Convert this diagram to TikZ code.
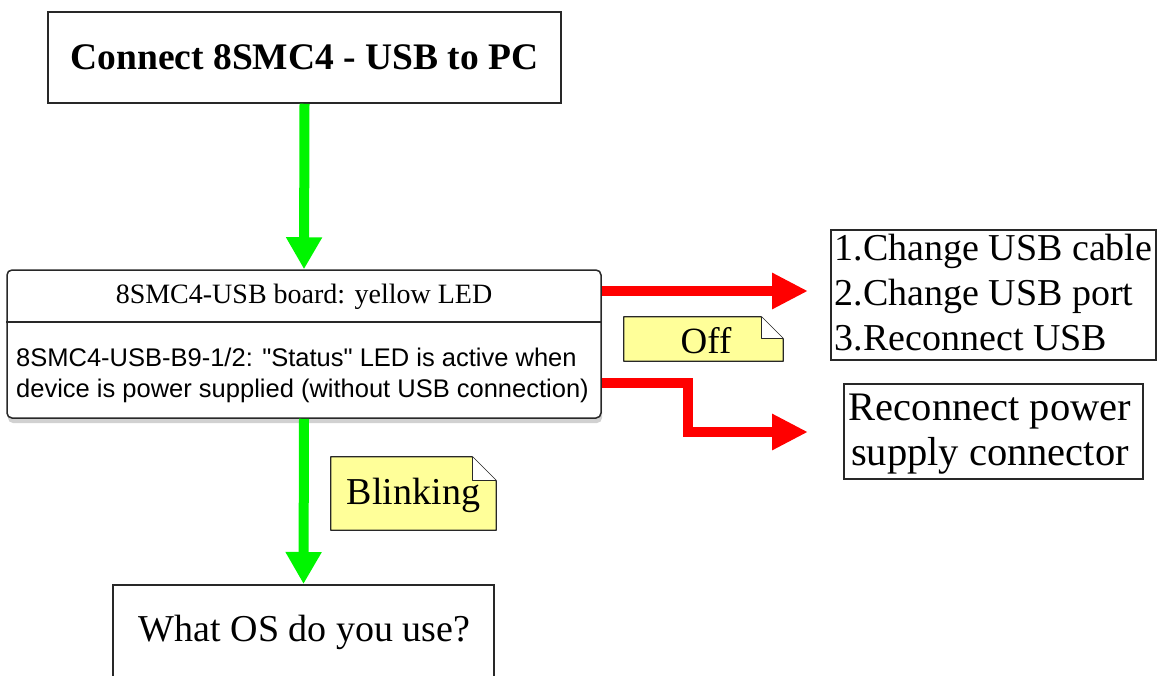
\documentclass[tikz,border=0pt]{standalone}
\usepackage{fontspec}
\setmainfont{Liberation Serif}
\newfontfamily\plainsans{Liberation Sans}
\usetikzlibrary{arrows.meta,shadows,backgrounds}
\definecolor{arrgreen}{RGB}{0,245,0}
\definecolor{arrred}{RGB}{255,0,0}
\definecolor{notey}{RGB}{255,255,153}
\definecolor{edge}{RGB}{40,40,40}
\tikzset{
  box/.style={draw=edge, line width=1.5pt, fill=white, inner sep=0pt},
  garrow/.style={draw=arrgreen, line width=10pt, -{Triangle[width=34pt,length=32pt]}},
  rarrow/.style={draw=arrred, line width=10pt, line join=miter, -{Triangle[width=34pt,length=36pt]}},
  notebg/.style={fill=notey, draw=edge, line width=1.3pt, line join=round},
  fold/.style={fill=white, draw=edge, line width=1.3pt, line join=round},
  big/.style={inner sep=0pt, font=\fontsize{38}{45}\selectfont},
  notetext/.style={inner sep=0pt, font=\fontsize{37}{44}\selectfont},
  noteshape/.style={inner sep=0pt},
}
\begin{document}
\begin{tikzpicture}[x=1pt,y=-1pt]
\useasboundingbox (0,0) rectangle (1158,675);
% top box
\node[box, minimum width=513pt, minimum height=91pt, font=\bfseries\fontsize{37.5}{44}\selectfont] (start) at (304.5,57.5) {Connect 8SMC4 - USB to PC};
% board box
\node[box, rounded corners=5pt, drop shadow={shadow xshift=1pt, shadow yshift=-5pt, opacity=0.3, fill=black!60}, minimum width=594pt, minimum height=148pt] (board) at (304,344) {};
\draw[edge, line width=1.5pt] (board.west |- 0,322) -- (board.east |- 0,322);
\node[inner sep=0pt, font=\fontsize{28}{33}\selectfont] (boardh) at (304,297) {8SMC4-USB board: yellow LED};
\node[inner sep=0pt, anchor=west, align=left, font=\plainsans\fontsize{25.5}{31}\selectfont] (boardb) at (16,375) {8SMC4-USB-B9-1/2: "Status" LED is active when\\device is power supplied (without USB connection)};
% right boxes
\node[box, minimum width=325pt, minimum height=130pt] (fix) at (993.5,295) {};
\node[big, align=left] (fixt) at (993.5,293) {1.Change USB cable\\2.Change USB port\\3.Reconnect USB};
\node[box, minimum width=299pt, minimum height=95pt] (power) at (993.5,431.5) {};
\node[inner sep=0pt, align=center, font=\fontsize{40.5}{45}\selectfont] (powert) at (990,434.5) {Reconnect power\\supply connector};
% bottom box
\node[box, minimum width=381pt, minimum height=100pt, anchor=north] (os) at (303.5,584) {};
\node[big] (ost) at (304.5,632) {What OS do you use?};
% notes
\node[noteshape, minimum width=159pt, minimum height=44pt] (off) at (703.5,339) {};
\node[noteshape, minimum width=165pt, minimum height=73pt] (blink) at (413.5,493.5) {};
\draw[notebg] (off.south west) -- (off.north west) -- ([xshift=-22pt]off.north east) -- ([yshift=-22pt]off.north east) -- (off.south east) -- cycle;
\draw[fold] ([xshift=-22pt]off.north east) -- ([xshift=-22pt,yshift=-22pt]off.north east) -- ([yshift=-22pt]off.north east);
\draw[notebg] (blink.south west) -- (blink.north west) -- ([xshift=-24pt]blink.north east) -- ([yshift=-24pt]blink.north east) -- (blink.south east) -- cycle;
\draw[fold] ([xshift=-24pt]blink.north east) -- ([xshift=-24pt,yshift=-24pt]blink.north east) -- ([yshift=-24pt]blink.north east);
\node[notetext] (offt) at (706,341) {Off};
\node[notetext, font=\fontsize{38}{44}\selectfont] (blinkt) at (413.5,495) {Blinking};
% connectors
\coordinate (t1) at (808,291);
\coordinate (t2) at (808,432);
\coordinate (bend) at (688,383);
\draw[garrow] (start.south) -- (board.north);
\draw[garrow] (board.south) -- (os.north);
\draw[rarrow] (board.east |- t1) -- (t1);
\draw[rarrow] (board.east |- bend) -- (bend) |- (t2);
\end{tikzpicture}
\end{document}
